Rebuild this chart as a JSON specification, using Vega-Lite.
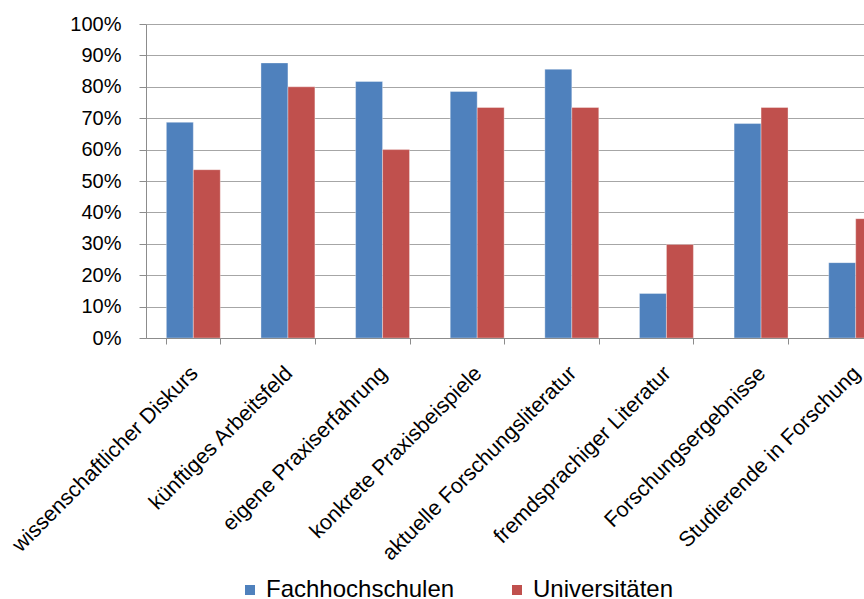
{
  "$schema": "https://vega.github.io/schema/vega-lite/v6.json",
  "width": 718,
  "height": 314,
  "autosize": {"type": "none"},
  "padding": {"left": 146, "top": 24, "right": 0, "bottom": 261},
  "background": "white",
  "config": {
    "font": "Liberation Sans",
    "view": {"stroke": null},
    "axis": {"labelFont": "Liberation Sans", "labelColor": "#000000"},
    "legend": {"labelFont": "Liberation Sans"}
  },
  "data": {
    "values": [
      {"kategorie": "wissenschaftlicher Diskurs", "gruppe": "Fachhochschulen", "wert": 0.687},
      {"kategorie": "wissenschaftlicher Diskurs", "gruppe": "Universitäten", "wert": 0.536},
      {"kategorie": "künftiges Arbeitsfeld", "gruppe": "Fachhochschulen", "wert": 0.876},
      {"kategorie": "künftiges Arbeitsfeld", "gruppe": "Universitäten", "wert": 0.80},
      {"kategorie": "eigene Praxiserfahrung", "gruppe": "Fachhochschulen", "wert": 0.817},
      {"kategorie": "eigene Praxiserfahrung", "gruppe": "Universitäten", "wert": 0.60},
      {"kategorie": "konkrete Praxisbeispiele", "gruppe": "Fachhochschulen", "wert": 0.785},
      {"kategorie": "konkrete Praxisbeispiele", "gruppe": "Universitäten", "wert": 0.734},
      {"kategorie": "aktuelle Forschungsliteratur", "gruppe": "Fachhochschulen", "wert": 0.856},
      {"kategorie": "aktuelle Forschungsliteratur", "gruppe": "Universitäten", "wert": 0.734},
      {"kategorie": "fremdsprachiger Literatur", "gruppe": "Fachhochschulen", "wert": 0.142},
      {"kategorie": "fremdsprachiger Literatur", "gruppe": "Universitäten", "wert": 0.298},
      {"kategorie": "Forschungsergebnisse", "gruppe": "Fachhochschulen", "wert": 0.683},
      {"kategorie": "Forschungsergebnisse", "gruppe": "Universitäten", "wert": 0.734},
      {"kategorie": "Studierende in Forschung", "gruppe": "Fachhochschulen", "wert": 0.24},
      {"kategorie": "Studierende in Forschung", "gruppe": "Universitäten", "wert": 0.38}
    ]
  },
  "mark": {"type": "bar", "clip": true, "stroke": "#ffffff", "strokeOpacity": 0.35, "strokeWidth": 1},
  "encoding": {
    "x": {
      "field": "kategorie",
      "type": "nominal",
      "sort": null,
      "scale": {"range": [0, 757], "paddingInner": 0.43, "paddingOuter": 0.215},
      "axis": {
        "title": null,
        "labelAngle": -45,
        "labelAlign": "right",
        "labelBaseline": "middle",
        "labelFontSize": 21.5,
        "labelPadding": 26,
        "labelOffset": 1,
        "labelLimit": 400,
        "tickBand": "extent",
        "tickSize": 6,
        "tickColor": "#8c8c8c",
        "domainColor": "#8c8c8c",
        "grid": false
      }
    },
    "xOffset": {
      "field": "gruppe",
      "type": "nominal",
      "scale": {"paddingInner": 0, "paddingOuter": 0}
    },
    "y": {
      "field": "wert",
      "type": "quantitative",
      "scale": {"domain": [0, 1], "nice": false},
      "axis": {
        "title": null,
        "values": [0, 0.1, 0.2, 0.3, 0.4, 0.5, 0.6, 0.7, 0.8, 0.9, 1],
        "format": ".0%",
        "labelFontSize": 20,
        "labelPadding": 18,
        "tickSize": 7,
        "tickColor": "#8c8c8c",
        "domainColor": "#8c8c8c",
        "gridColor": "#a6a6a6",
        "gridWidth": 1.2
      }
    },
    "color": {
      "field": "gruppe",
      "type": "nominal",
      "scale": {"domain": ["Fachhochschulen", "Universitäten"], "range": ["#4F81BD", "#C0504D"]},
      "legend": {
        "title": null,
        "orient": "none",
        "direction": "horizontal",
        "legendX": 92,
        "legendY": 554,
        "symbolType": "square",
        "symbolSize": 100,
        "symbolStrokeWidth": 0,
        "labelFontSize": 24,
        "labelLimit": 400,
        "labelColor": "#000000",
        "labelOffset": 4,
        "columnPadding": 50
      }
    }
  }
}
